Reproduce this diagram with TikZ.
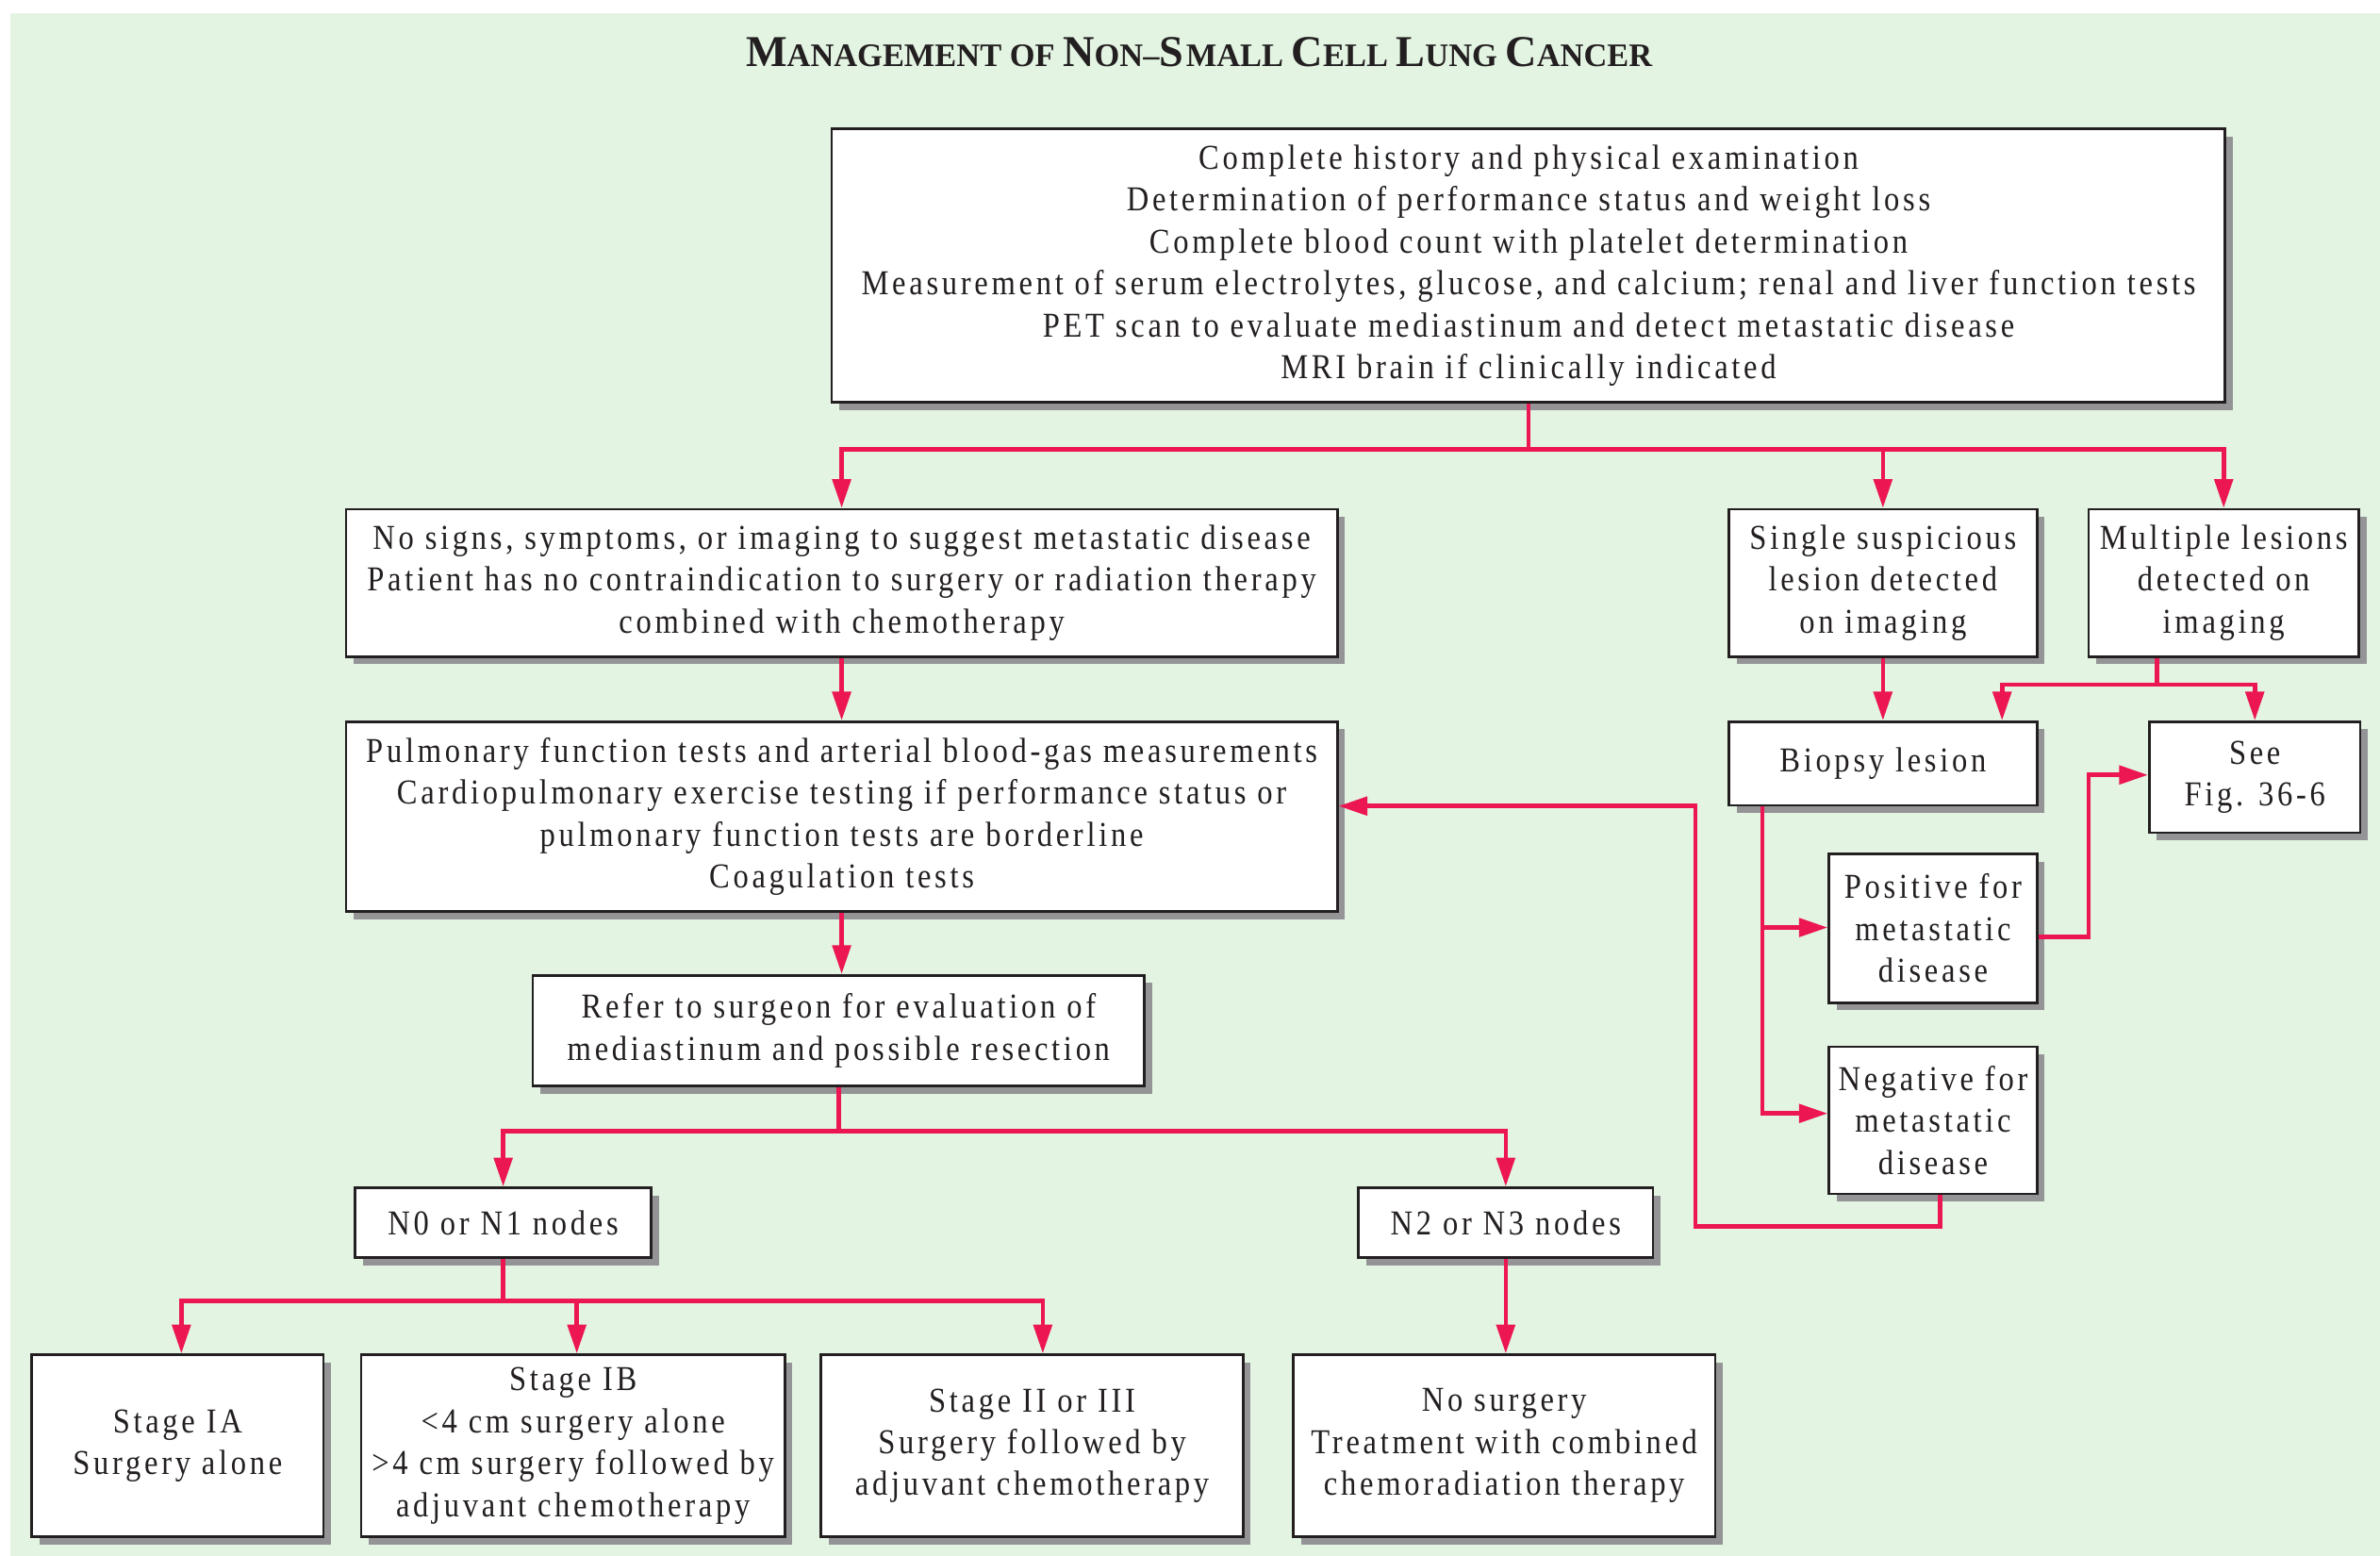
\documentclass[tikz,border=0pt]{standalone}
\usepackage{fontspec}
\setmainfont{Liberation Serif}[FakeStretch=0.88, LetterSpace=10]
\newfontfamily\headfont{Liberation Serif}[FakeStretch=0.99]
\usetikzlibrary{arrows.meta,shadows}

\definecolor{bggreen}{RGB}{227,244,227}
\definecolor{arrowred}{RGB}{236,22,82}
\definecolor{shadowgray}{RGB}{148,148,150}
\definecolor{boxline}{RGB}{35,31,32}
\definecolor{ink}{RGB}{35,31,32}

% title lettering: large and small capitals
\newcommand\tbig[1]{{\fontsize{29}{30}\selectfont #1}}
\newcommand\tsmall[1]{{\fontsize{21.6}{22}\selectfont #1}}

\begin{document}
\begin{tikzpicture}[x=1pt, y=-1pt,
  box/.style={draw=boxline, line width=1.7pt, fill=white, align=center,
    inner sep=2pt, text=ink, font=\fontsize{23}{27.6}\selectfont,
    general shadow={fill=shadowgray, shadow xshift=5pt, shadow yshift=-5pt}},
  link/.style={draw=arrowred, line width=2.9pt},
  arrow/.style={link, -{Triangle[length=19pt, width=12pt]}}]

\useasboundingbox (0,0) rectangle (1568,1025);
\fill[bggreen] (7,9) rectangle (1568,1025);

% heading
\node[anchor=base, text=ink, inner sep=0pt, font=\headfont\bfseries] (title) at (790,44)
  {\tbig{M}\tsmall{ANAGEMENT OF }\tbig{N}\tsmall{ON–}\tbig{S}\,\tsmall{MALL }\tbig{C}\tsmall{ELL }\tbig{L}\tsmall{UNG }\tbig{C}\tsmall{ANCER}};

% boxes
\node[box, minimum width=918pt, minimum height=180pt] (top) at (1007,175)
  {Complete history and physical examination\\
   Determination of performance status and weight loss\\
   Complete blood count with platelet determination\\
   Measurement of serum electrolytes, glucose, and calcium; renal and liver function tests\\
   PET scan to evaluate mediastinum and detect metastatic disease\\
   MRI brain if clinically indicated};

\node[box, minimum width=653pt, minimum height=97pt] (nosign) at (554.5,384)
  {No signs, symptoms, or imaging to suggest metastatic disease\\
   Patient has no contraindication to surgery or radiation therapy\\
   combined with chemotherapy};

\node[box, minimum width=203pt, minimum height=97pt] (single) at (1240.5,384)
  {Single suspicious\\lesion detected\\on imaging};

\node[box, minimum width=178pt, minimum height=97pt] (multi) at (1465,384)
  {Multiple lesions\\detected on\\imaging};

\node[box, minimum width=653pt, minimum height=125pt] (pulm) at (554.5,538)
  {Pulmonary function tests and arterial blood-gas measurements\\
   Cardiopulmonary exercise testing if performance status or\\
   pulmonary function tests are borderline\\
   Coagulation tests};

\node[box, minimum width=203pt, minimum height=55pt] (biopsy) at (1240.5,503)
  {Biopsy lesion};

\node[box, minimum width=139pt, minimum height=73pt] (see) at (1485.5,512)
  {See\\Fig. 36-6};

\node[box, minimum width=137pt, minimum height=98pt] (pos) at (1273.5,611.5)
  {Positive for\\metastatic\\disease};

\node[box, minimum width=137pt, minimum height=97pt] (neg) at (1273.5,738)
  {Negative for\\metastatic\\disease};

\node[box, minimum width=403pt, minimum height=73pt] (refer) at (552.5,679)
  {Refer to surgeon for evaluation of\\mediastinum and possible resection};

\node[box, minimum width=195pt, minimum height=46pt] (n01) at (331.5,805.5)
  {N0 or N1 nodes};

\node[box, minimum width=194pt, minimum height=46pt] (n23) at (992,805.5)
  {N2 or N3 nodes};

\node[box, minimum width=192pt, minimum height=120pt] (s1a) at (117,952.5)
  {Stage IA\\Surgery alone};

\node[box, minimum width=279pt, minimum height=120pt] (s1b) at (377.5,952.5)
  {Stage IB\\<4 cm surgery alone\\>4 cm surgery followed by\\adjuvant chemotherapy};

\node[box, minimum width=278pt, minimum height=120pt] (s23) at (680,952.5)
  {Stage II or III\\Surgery followed by\\adjuvant chemotherapy};

\node[box, minimum width=278pt, minimum height=120pt] (nosurg) at (991,952.5)
  {No surgery\\Treatment with combined\\chemoradiation therapy};

% branch points
\coordinate (bus1) at (1007,296);
\coordinate (bus2) at (552.5,745);
\coordinate (bus3) at (331.5,857);
\coordinate (bus4) at (1421,451);
\coordinate (m1) at (1319,451);
\coordinate (v1) at (1161,531);
\coordinate (k1) at (1376,617);
\coordinate (L1) at (1278,808);
\coordinate (L2) at (1117,808);
\coordinate (L3) at (1117,531);

% connectors
\draw[link] (top.south) -- (bus1);
\draw[arrow] (bus1) -| (nosign.north);
\draw[arrow] (bus1) -| (single.north);
\draw[arrow] (bus1) -| (multi.north);

\draw[arrow] (nosign.south) -- (pulm.north);
\draw[arrow] (pulm.south) -- (pulm.south |- refer.north);
\draw[link] (refer.south) -- (bus2);
\draw[arrow] (bus2) -| (n01.north);
\draw[arrow] (bus2) -| (n23.north);

\draw[link] (n01.south) -- (bus3);
\draw[arrow] (bus3) -| ([xshift=2.5pt]s1a.north);
\draw[arrow] (bus3) -| ([xshift=2.5pt]s1b.north);
\draw[arrow] (bus3) -| ([xshift=7pt]s23.north);
\draw[arrow] (n23.south) -- (n23.south |- nosurg.north);

\draw[arrow] (single.south) -- (biopsy.north);
\draw[link] (multi.south -| bus4) -- (bus4);
\draw[arrow] (bus4) -- (m1) -- (m1 |- biopsy.north);
\draw[arrow] (bus4) -| (see.north);

\draw[arrow] (biopsy.south -| v1) |- ([yshift=0.5pt]pos.west);
\draw[arrow] (biopsy.south -| v1) |- ([yshift=4.5pt]neg.west);
\draw[arrow] ([yshift=-5.5pt]pos.east) -- (k1) |- ([yshift=1.5pt]see.west);
\draw[arrow] (neg.south -| L1) -- (L1) -- (L2) -- (L3) -- (pulm.east |- L3);

\end{tikzpicture}
\end{document}
